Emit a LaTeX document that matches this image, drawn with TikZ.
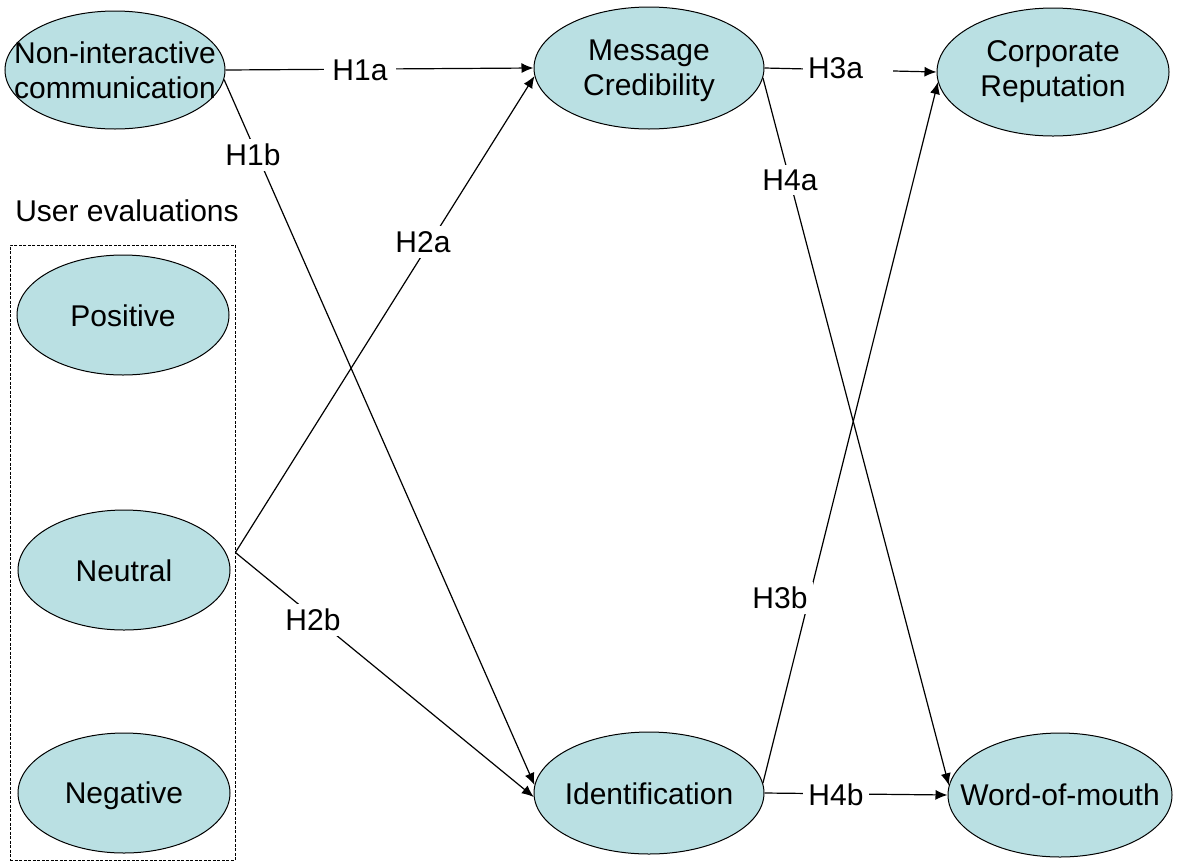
\documentclass[tikz,border=0pt]{standalone}
\usepackage{fontspec}
\setmainfont{Liberation Sans}
\usetikzlibrary{shapes.geometric,arrows.meta}
\definecolor{ellfill}{RGB}{186,224,227}
\begin{document}
\begin{tikzpicture}[x=1pt,y=-1pt,
  ell/.style={ellipse, draw=black, line width=1pt, fill=ellfill, inner sep=0pt},
  txt/.style={align=center, inner sep=0pt, font=\fontsize{30}{35}\selectfont},
  lbl/.style={fill=white, inner sep=5pt, font=\fontsize{30}{35}\selectfont},
  conn/.style={line width=1.2pt},
  arr/.style={conn, -{Latex[length=12pt,width=10pt]}}]
\useasboundingbox (0,0) rectangle (1178,863);
% dashed group box
\node[draw, dash pattern=on 3pt off 1.5pt, line width=0.8pt, minimum width=225pt, minimum height=615pt, inner sep=0pt] (box) at (122.5,552.5) {};
\node[txt] (ue) at (127,211) {User evaluations};
% ellipses
\node[ell, minimum width=220pt, minimum height=118pt] (nic) at (115,70) {};
\node[txt] (nict) at (nic) {Non-interactive\\communication};
\node[ell, minimum width=230pt, minimum height=122pt] (mc) at (649,68) {};
\node[txt] (mct) at (649,71) {Message\\Credibility};
\node[ell, minimum width=232pt, minimum height=128pt] (cr) at (1053,72) {};
\node[txt] (crt) at (cr) {Corporate\\Reputation};
\node[ell, minimum width=212pt, minimum height=120pt] (pos) at (123,315) {};
\node[txt] (post) at (123,316) {Positive};
\node[ell, minimum width=212pt, minimum height=120pt] (neu) at (124,570) {};
\node[txt] (neut) at (124,571) {Neutral};
\node[ell, minimum width=212pt, minimum height=120pt] (neg) at (124,793) {};
\node[txt] (negt) at (124,796) {Negative};
\node[ell, minimum width=230pt, minimum height=122pt] (id) at (649,793) {};
\node[txt] (idt) at (649,794) {Identification};
\node[ell, minimum width=224pt, minimum height=124pt] (wom) at (1060,795) {};
\node[txt] (womt) at (wom) {Word-of-mouth};
% connectors
\draw[arr] (nic.east) -- (mc.west);
\draw[arr] (nic.-5) -- (id.176);
\draw[arr] (box.east) -- (mc.184);
\draw[arr] (box.east) -- (id.182);
\draw[arr] (mc.east) -- (cr.west);
\draw[arr] (mc.-5) -- (wom.175);
\draw[arr] (id.5) -- (cr.185);
\draw[arr] (id.east) -- (wom.west);
% labels
\node[lbl, inner xsep=8pt] (l1a) at (360,70) {H1a};
\node[lbl, text width=80pt, align=left] (l3a) at (848,68) {H3a};
\node[lbl] (l1b) at (253,155) {H1b};
\node[lbl] (l2a) at (423,242) {H2a};
\node[lbl] (l2b) at (313,620) {H2b};
\node[lbl] (l4a) at (790,180) {H4a};
\node[lbl] (l3b) at (780,598) {H3b};
\node[lbl] (l4b) at (836,795) {H4b};
\end{tikzpicture}
\end{document}
